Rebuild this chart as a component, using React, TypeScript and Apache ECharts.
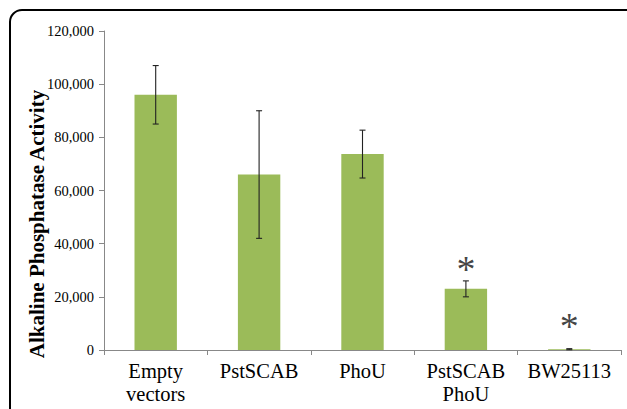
import React, { useEffect, useRef } from "react";
import * as echarts from "echarts";

const categories = ["Empty\nvectors", "PstSCAB", "PhoU", "PstSCAB\nPhoU", "BW25113"];
const values = [96000, 66000, 73700, 23000, 300];
const errors = [11000, 24000, 9000, 3000, 200];
const asteriskValues = [null, null, null, 32700, 11300];
const yTicks = [0, 20000, 40000, 60000, 80000, 100000, 120000];
const yTitle = "Alkaline Phosphatase Activity";

export default function App() {
  const ref = useRef<HTMLDivElement>(null);
  useEffect(() => {
    const chart = echarts.init(ref.current!, null, { renderer: "svg" });
    const font = "Times New Roman";
    chart.setOption({
      animation: false,
      graphic: [
        {
          type: "rect",
          shape: { x: 10, y: 10, width: 700, height: 500, r: 12 },
          style: { fill: "none", stroke: "#000", lineWidth: 2 },
          z: 100,
        },
        {
          type: "text",
          x: 37,
          y: 224,
          rotation: Math.PI / 2,
          style: {
            text: yTitle,
            fontFamily: font,
            fontSize: 21,
            fontWeight: "bold",
            fill: "#000",
            align: "center",
            verticalAlign: "middle",
          },
        },
      ],
      grid: { left: 104, right: 6, top: 31, bottom: 59 },
      xAxis: {
        type: "category",
        data: categories,
        axisLine: { lineStyle: { color: "#888", width: 1 } },
        axisTick: { show: true, length: 5, lineStyle: { color: "#888" } },
        axisLabel: {
          color: "#000",
          fontFamily: font,
          fontSize: 20.5,
          lineHeight: 23,
          margin: 9,
          interval: 0,
        },
      },
      yAxis: {
        type: "value",
        min: 0,
        max: 120000,
        interval: 20000,
        axisLine: { show: true, lineStyle: { color: "#888", width: 1 } },
        axisTick: { show: true, length: 5, lineStyle: { color: "#888" } },
        splitLine: { show: false },
        axisLabel: {
          color: "#000",
          fontFamily: font,
          fontSize: 14.5,
          margin: 10,
          formatter: (v: number) => (yTicks.includes(v) ? v.toLocaleString("en-US") : ""),
        },
      },
      series: [
        {
          type: "bar",
          data: values,
          barWidth: "41%",
          itemStyle: { color: "#9BBB59" },
        },
        {
          type: "custom",
          data: values.map((v, i) => [i, v - errors[i], v + errors[i]]),
          renderItem: (params: any, api: any) => {
            const x = api.value(0);
            const lo = api.coord([x, api.value(1)]);
            const hi = api.coord([x, api.value(2)]);
            const hw = 3;
            const style = { stroke: "#222", lineWidth: 1.1 };
            return {
              type: "group",
              children: [
                { type: "line", shape: { x1: lo[0], y1: lo[1], x2: hi[0], y2: hi[1] }, style },
                { type: "line", shape: { x1: lo[0] - hw, y1: lo[1], x2: lo[0] + hw, y2: lo[1] }, style },
                { type: "line", shape: { x1: hi[0] - hw, y1: hi[1], x2: hi[0] + hw, y2: hi[1] }, style },
              ],
            };
          },
          z: 10,
        },
        {
          type: "scatter",
          data: asteriskValues,
          symbolSize: 0,
          label: {
            show: true,
            position: "inside",
            formatter: "*",
            color: "#111",
            fontFamily: font,
            fontSize: 38,
            offset: [0, 6],
          },
          z: 11,
        },
      ],
    });
    return () => chart.dispose();
  }, []);
  return <div ref={ref} style={{ width: 627, height: 409, position: "absolute", left: 0, top: 0 }} />;
}
